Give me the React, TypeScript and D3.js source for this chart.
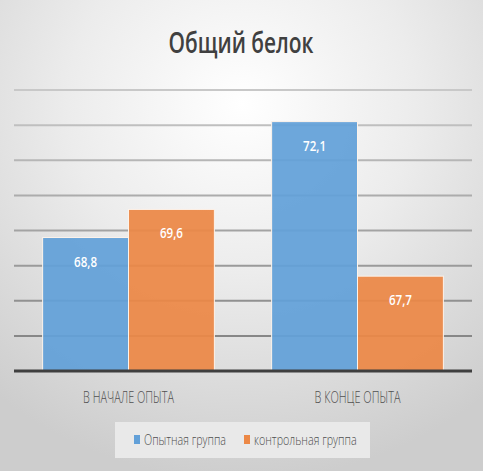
import { useMemo } from "react";
import * as d3 from "d3";

const categories = ["В НАЧАЛЕ ОПЫТА", "В КОНЦЕ ОПЫТА"];
const seriesNames = ["Опытная группа", "контрольная группа"];
const experimental = [68.8, 72.1];
const control = [69.6, 67.7];
const yTicks = [65, 66, 67, 68, 69, 70, 71, 72, 73];
const colors = ["#62a0d8", "#ec8846"];

const W = 483;
const H = 471;
const fmt = (v: number) => v.toFixed(1).replace(".", ",");

export default function App() {
  const margin = { left: 14, right: 11, top: 90, bottom: 100 };

  const x = useMemo(
    () =>
      d3
        .scaleBand<string>()
        .domain(categories)
        .range([margin.left, W - margin.right])
        .paddingInner(0.25)
        .paddingOuter(0.125),
    []
  );
  const x1 = useMemo(
    () => d3.scaleBand<string>().domain(seriesNames).range([0, x.bandwidth()]).padding(0),
    [x]
  );
  const y = useMemo(
    () => d3.scaleLinear().domain([65, 73]).range([H - margin.bottom, margin.top]),
    []
  );

  const series = [experimental, control];
  const gridColor = d3
    .scaleLinear<string>()
    .domain([73, 65])
    .range(["#c8c8c8", "#7e7e7e"]);

  const labelWidths = [91, 86];
  const legendWidths = [82, 102.7];
  const legendX = [144, 254];

  return (
    <svg
      width={W}
      height={H}
      style={{ position: "absolute", left: 0, top: 0 }}
      fontFamily="'Open Sans', 'DejaVu Sans', sans-serif"
    >
      <defs>
        <radialGradient id="bg" cx="0.5" cy="0.22" r="0.8">
          <stop offset="0" stopColor="#ffffff" />
          <stop offset="0.45" stopColor="#ececec" />
          <stop offset="1" stopColor="#cdcdcd" />
        </radialGradient>
      </defs>
      <rect width={W} height={H} fill="url(#bg)" />

      <text
        x={241}
        y={53}
        textAnchor="middle"
        fontSize={29}
        fontWeight={600}
        fill="#404040"
        textLength={145}
        lengthAdjust="spacingAndGlyphs"
      >
        Общий белок
      </text>

      {yTicks.slice(1).map((t) => (
        <line
          key={t}
          x1={margin.left}
          x2={W - margin.right}
          y1={y(t)}
          y2={y(t)}
          stroke={gridColor(t)}
          strokeWidth={2}
        />
      ))}

      {categories.map((c, ci) =>
        series.map((s, si) => (
          <g key={c + si}>
            <rect
              x={x(c)! + x1(seriesNames[si])!}
              y={y(s[ci])}
              width={x1.bandwidth()}
              height={y(65) - y(s[ci])}
              fill={colors[si]}
              fillOpacity={0.93}
              stroke="#fdf3ea"
              strokeWidth={1}
            />
            <text
              x={x(c)! + x1(seriesNames[si])! + x1.bandwidth() / 2}
              y={y(s[ci]) + 29}
              textAnchor="middle"
              fontSize={15}
              fontWeight={600}
              fill="#ffffff"
              textLength={23}
              lengthAdjust="spacingAndGlyphs"
            >
              {fmt(s[ci])}
            </text>
          </g>
        ))
      )}

      <line
        x1={margin.left}
        x2={W - margin.right}
        y1={y(65)}
        y2={y(65)}
        stroke="#3f3f3f"
        strokeWidth={3}
      />

      {categories.map((c, ci) => (
        <text
          key={c}
          x={x(c)! + x.bandwidth() / 2}
          y={403}
          textAnchor="middle"
          fontSize={16}
          fontWeight={300}
          fill="#505050"
          textLength={labelWidths[ci]}
          lengthAdjust="spacingAndGlyphs"
        >
          {c}
        </text>
      ))}

      <rect x={115} y={422} width={255} height={36} fill="#e9e9e9" />
      {seriesNames.map((n, i) => (
        <g key={n}>
          <rect x={legendX[i] - 10} y={435} width={6} height={9} fill={colors[i]} />
          <text
            x={legendX[i]}
            y={445}
            fontSize={14}
            fontWeight={300}
            fill="#505050"
            textLength={legendWidths[i]}
            lengthAdjust="spacingAndGlyphs"
          >
            {n}
          </text>
        </g>
      ))}
    </svg>
  );
}
